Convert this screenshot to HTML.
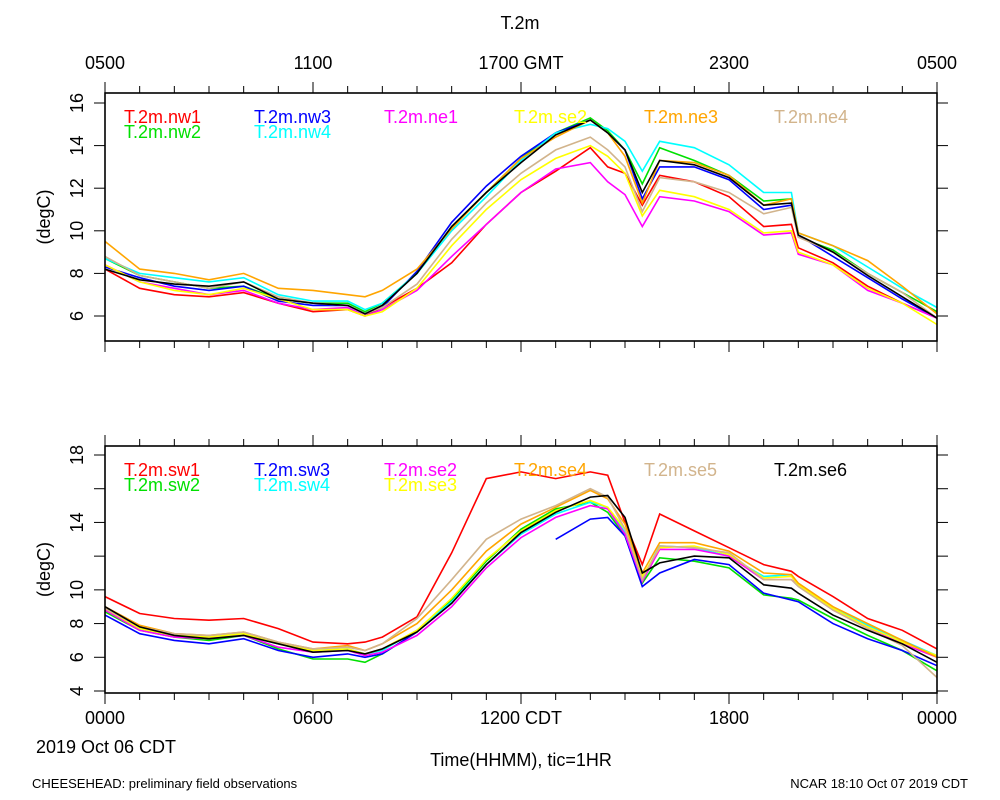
<!DOCTYPE html>
<html><head><meta charset="utf-8"><style>
body{margin:0;background:#fff}
svg{display:block;font-family:"Liberation Sans",sans-serif}
</style></head><body>
<svg id="s" width="1000" height="800" viewBox="0 0 1000 800">
<text x="520" y="29" font-size="18" text-anchor="middle">T.2m</text>
<g id="g"></g>
<text x="106" y="753" font-size="18" text-anchor="middle">2019 Oct 06 CDT</text>
<text x="521" y="766" font-size="18" text-anchor="middle">Time(HHMM), tic=1HR</text>
<text x="32" y="788" font-size="13">CHEESEHEAD: preliminary field observations</text>
<text x="968" y="788" font-size="13" text-anchor="end">NCAR 18:10 Oct 07 2019 CDT</text>
</svg>
<script>
const hours=[0,1,2,3,4,5,6,7,7.5,8,9,10,11,12,13,14,14.5,15,15.5,16,17,18,19,19.8,20,21,22,23,24];
const topTickLabels=["0500","1100","1700 GMT","2300","0500"];
const botTickLabels=["0000","0600","1200 CDT","1800","0000"];
const topYTicks=[6,8,10,12,14,16];
const botYTicks=[4,6,8,10,12,14,16,18];
const botYLabels=[4,6,8,10,14,18];
const topNames=["T.2m.nw1","T.2m.nw2","T.2m.nw3","T.2m.nw4","T.2m.ne1","T.2m.se2","T.2m.ne3","T.2m.ne4",""];
const topColors=["#ff0000","#00e000","#0000ff","#00ffff","#ff00ff","#ffff00","#ffa500","#d2b48c","#000000"];
const nw1=[8.2,7.3,7.0,6.9,7.1,6.6,6.2,6.3,6.0,6.4,7.3,8.5,10.3,11.8,12.8,13.9,13.0,12.7,11.2,12.6,12.3,11.6,10.2,10.3,9.2,8.5,7.4,6.6,5.9];
const nw2=[8.7,7.9,7.6,7.3,7.4,6.8,6.6,6.6,6.2,6.6,8.0,10.2,11.8,13.4,14.6,15.3,14.7,13.8,12.2,13.9,13.3,12.6,11.4,11.5,9.7,9.1,8.0,7.1,6.2];
const nw3=[8.3,7.8,7.4,7.2,7.4,6.7,6.5,6.5,6.1,6.4,8.1,10.4,12.1,13.5,14.6,15.2,14.6,13.8,11.5,13.0,13.0,12.4,11.0,11.2,9.8,8.8,7.8,6.8,5.9];
const nw4=[8.7,8.0,7.8,7.6,7.8,7.0,6.7,6.7,6.3,6.6,8.0,10.0,11.6,13.3,14.6,15.0,14.8,14.2,12.8,14.2,13.9,13.1,11.8,11.8,9.9,9.3,8.3,7.3,6.4];
const ne1=[8.4,7.6,7.3,7.0,7.2,6.6,6.3,6.4,6.0,6.3,7.2,8.8,10.3,11.8,12.9,13.2,12.3,11.7,10.2,11.6,11.4,10.9,9.8,9.9,8.9,8.4,7.2,6.6,5.9];
const se2t=[8.4,7.6,7.2,7.0,7.3,6.8,6.3,6.3,6.0,6.2,7.3,9.3,11.0,12.4,13.4,14.0,13.5,12.7,10.7,11.9,11.6,11.0,9.9,10.0,9.0,8.4,7.3,6.6,5.6];
const ne3=[9.5,8.2,8.0,7.7,8.0,7.3,7.2,7.0,6.9,7.2,8.2,10.1,11.8,13.4,14.4,15.2,14.6,13.5,11.3,13.3,13.2,12.6,11.2,11.5,9.9,9.3,8.6,7.4,6.1];
const ne4=[8.8,7.9,7.6,7.3,7.6,6.9,6.6,6.5,6.1,6.4,7.5,9.6,11.3,12.7,13.8,14.4,13.8,13.0,10.9,12.5,12.3,11.8,10.8,11.1,9.7,9.0,8.0,7.1,5.9];
const blk=[8.2,7.7,7.5,7.4,7.6,6.8,6.6,6.5,6.1,6.5,8.0,10.2,11.8,13.2,14.5,15.2,14.6,13.8,11.8,13.3,13.1,12.5,11.2,11.3,9.8,9.0,7.9,6.9,5.9];
const botNames=["T.2m.sw1","T.2m.sw2","T.2m.sw3","T.2m.sw4","T.2m.se2","T.2m.se3","T.2m.se4","T.2m.se5","T.2m.se6"];
const botColors=["#ff0000","#00e000","#0000ff","#00ffff","#ff00ff","#ffff00","#ffa500","#d2b48c","#000000"];
const sw1=[9.6,8.6,8.3,8.2,8.3,7.7,6.9,6.8,6.9,7.2,8.4,12.2,16.6,17.0,16.6,17.0,16.8,14.0,11.5,14.5,13.5,12.5,11.5,11.1,10.8,9.6,8.3,7.6,6.5];
const sw2=[8.7,7.6,7.2,7.0,7.3,6.5,5.9,5.9,5.7,6.2,7.5,9.4,11.7,13.6,14.8,15.2,14.6,13.2,10.4,11.9,11.7,11.3,9.7,9.5,9.4,8.3,7.3,6.4,5.2];
const sw3=[8.5,7.4,7.0,6.8,7.1,6.4,6.0,6.2,6.0,6.2,7.5,null,null,null,13.0,14.2,14.3,13.2,10.2,11.0,11.8,11.5,9.8,9.4,9.3,8.0,7.1,6.4,5.5];
const sw4=[8.9,7.7,7.3,7.2,7.4,6.8,6.4,6.5,6.2,6.4,7.6,9.3,11.5,13.3,14.5,15.2,14.9,13.4,10.7,12.6,12.5,12.0,10.8,10.9,10.3,8.9,7.9,7.0,6.1];
const se2b=[8.8,7.6,7.2,7.1,7.3,6.6,6.3,6.4,6.1,6.3,7.3,9.0,11.3,13.1,14.3,15.0,14.8,13.3,10.5,12.4,12.4,12.0,10.6,10.6,10.3,8.8,7.8,6.8,6.0];
const se3=[8.9,7.7,7.3,7.2,7.4,6.8,6.4,6.5,6.2,6.5,7.6,9.5,11.8,13.5,14.7,15.3,14.9,13.6,10.8,12.5,12.6,12.1,10.7,10.8,10.3,8.9,7.8,6.9,6.1];
const se4=[9.0,7.9,7.4,7.3,7.5,6.9,6.5,6.7,6.4,6.8,8.0,10.0,12.3,13.9,14.9,15.9,15.4,13.9,11.0,12.8,12.8,12.3,11.0,10.9,10.4,9.0,8.0,7.0,6.0];
const se5=[8.9,7.8,7.4,7.3,7.5,6.9,6.5,6.6,6.4,6.8,8.3,10.6,13.0,14.2,15.0,16.0,15.5,13.6,10.6,12.6,12.5,12.2,10.6,10.6,10.2,8.8,7.7,6.7,4.8];
const se6=[9.0,7.8,7.3,7.1,7.3,6.8,6.3,6.4,6.2,6.5,7.5,9.2,11.5,13.4,14.6,15.5,15.6,14.3,11.0,11.6,12.0,11.9,10.3,10.1,9.8,8.5,7.6,6.8,5.7];
const topSeries=[nw1,nw2,nw3,nw4,ne1,se2t,ne3,ne4,blk];
const botSeries=[sw1,sw2,sw3,sw4,se2b,se3,se4,se5,se6];

const NS="http://www.w3.org/2000/svg";
const G=document.getElementById('g');
const X0=105,X1=937;
const xs=h=>X0+(X1-X0)*h/24;
function mk(t,a,p){const e=document.createElementNS(NS,t);for(const k in a)e.setAttribute(k,a[k]);(p||G).appendChild(e);return e;}
function panel(id,top,bot,ymin,ymax,pmin,pmax,ytick,ylab,xlabs,labY,names,colors,series){
  const ys=v=>pmin+(pmax-pmin)*(v-ymin)/(ymax-ymin);
  const g=mk('g',{});
  
  
  series.forEach((s,i)=>{
    let d='',pen=false;
    s.forEach((v,j)=>{if(v===null){pen=false;return;}d+=(pen?'L':'M')+xs(hours[j]).toFixed(1)+' '+ys(v).toFixed(1);pen=true;});
    const p=mk('path',{d:d,fill:'none',stroke:colors[i],'stroke-width':1.6},g);
    
    
  });
  const fr=mk('rect',{x:X0,y:top,width:X1-X0,height:bot-top,fill:'none',stroke:'#000','stroke-width':1.6},g);
  
  
  for(let h=0;h<=24;h++){
    const L=h%6===0?11:7;
    mk('line',{x1:xs(h),x2:xs(h),y1:top,y2:top-L,stroke:'#000','stroke-width':1},g);
    mk('line',{x1:xs(h),x2:xs(h),y1:bot,y2:bot+L,stroke:'#000','stroke-width':1},g);
  }
  xlabs.forEach((t,i)=>{
    const tx=mk('text',{x:xs(i*6),y:labY,'font-size':18,'text-anchor':'middle'},g);
    tx.textContent=t;
    
    
  });
  ytick.forEach(v=>{
    mk('line',{x1:X0,x2:X0-11,y1:ys(v),y2:ys(v),stroke:'#000','stroke-width':1},g);
    mk('line',{x1:X1,x2:X1+11,y1:ys(v),y2:ys(v),stroke:'#000','stroke-width':1},g);
  });
  ylab.forEach(v=>{
    const tx=mk('text',{x:0,y:0,'font-size':18,'text-anchor':'middle',transform:`translate(83,${ys(v)}) rotate(-90)`},g);
    tx.textContent=v;
    
    
  });
  const yt=mk('text',{x:0,y:0,'font-size':18,'text-anchor':'middle',transform:`translate(50,${(top+bot)/2}) rotate(-90)`},g);
  yt.textContent='(degC)';
  
  
  const pos=id==='top'?[[124,0],[124,1],[254,0],[254,1],[384,0],[514,0],[644,0],[774,0]]:[[124,0],[124,1],[254,0],[254,1],[384,0],[384,1],[514,0],[644,0],[774,0]];
  names.forEach((n,i)=>{
    if(!n)return;
    const tx=mk('text',{'font-size':18,fill:colors[i],x:pos[i][0],y:top+30+pos[i][1]*15},g);
    tx.textContent=n;
    
    
  });
}
panel('top',93,341,6,16,316,103,topYTicks,topYTicks,topTickLabels,69,topNames,topColors,topSeries);
panel('bottom',446,693,4,18,691,455,botYTicks,botYLabels,botTickLabels,724,botNames,botColors,botSeries);
</script>
</body></html>
